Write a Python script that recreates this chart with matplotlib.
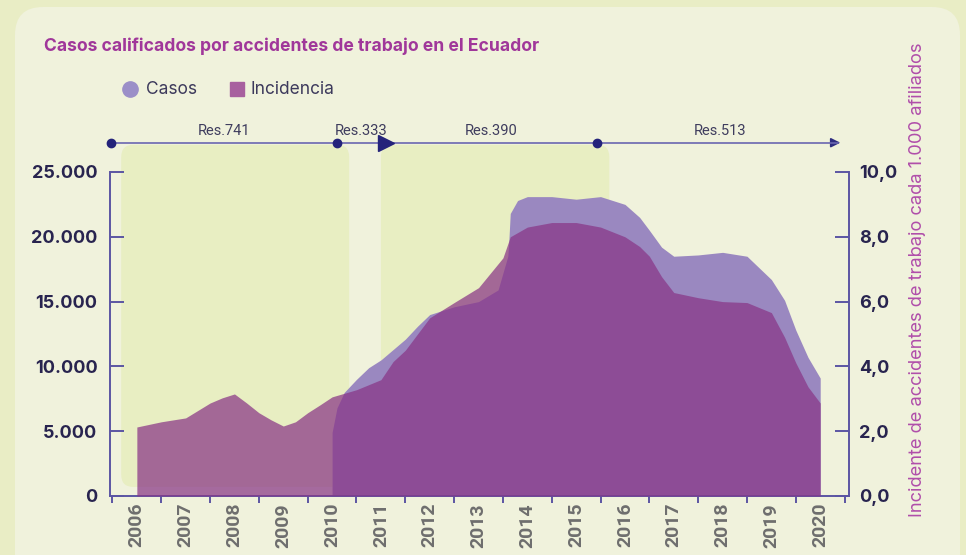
import numpy as np
import matplotlib
matplotlib.use("Agg")
import matplotlib.pyplot as plt
from matplotlib.patches import FancyBboxPatch

# --- data (readings along the smoothed areas) ---
casos_years = [2010.0, 2010.1, 2010.25, 2010.4, 2010.5, 2010.75, 2011.0, 2011.25,
               2011.5, 2011.75, 2012.0, 2012.5, 2013.0, 2013.4, 2013.6, 2013.62,
               2013.65, 2013.8, 2014.0, 2014.5, 2015.0, 2015.5, 2016.0, 2016.3,
               2016.5, 2016.75, 2017.0, 2017.5, 2018.0, 2018.5, 2019.0, 2019.27,
               2019.5, 2019.75, 2020.0]
casos = [4900, 6800, 8000, 8600, 9000, 9900, 10500, 11300,
         12100, 13100, 14000, 14600, 15000, 15900, 18500, 19600,
         21800, 22800, 23100, 23100, 22900, 23100, 22500, 21500,
         20500, 19200, 18500, 18600, 18800, 18500, 16700, 15100,
         12800, 10700, 9100]

inc_years = [2006.0, 2006.5, 2007.0, 2007.5, 2007.75, 2008.0, 2008.25, 2008.5,
             2008.75, 2009.0, 2009.25, 2009.5, 2009.75, 2010.0, 2010.5, 2011.0,
             2011.25, 2011.5, 2012.0, 2012.5, 2013.0, 2013.5, 2013.65, 2014.0,
             2014.5, 2015.0, 2015.5, 2016.0, 2016.3, 2016.5, 2016.75, 2017.0,
             2017.5, 2018.0, 2018.5, 2019.0, 2019.27, 2019.5, 2019.75, 2020.0]
incidencia = [2.13, 2.29, 2.41, 2.87, 3.03, 3.15, 2.87, 2.57,
              2.35, 2.16, 2.29, 2.57, 2.81, 3.06, 3.28, 3.59,
              4.15, 4.50, 5.50, 5.97, 6.43, 7.35, 8.00, 8.30,
              8.44, 8.44, 8.30, 8.00, 7.70, 7.40, 6.77, 6.28,
              6.12, 6.00, 5.97, 5.66, 4.90, 4.11, 3.37, 2.87]

year_labels = list(range(2006, 2021))
left_ticks = [0, 5000, 10000, 15000, 20000, 25000]
left_labels = ["0", "5.000", "10.000", "15.000", "20.000", "25.000"]
right_ticks = [0, 2, 4, 6, 8, 10]
right_labels = ["0,0", "2,0", "4,0", "6,0", "8,0", "10,0"]

# resolutions timeline (start year of each node) and shaded periods
res_names = ["Res.741", "Res.333", "Res.390", "Res.513"]
res_starts = [2005.47, 2010.1, 2011.1, 2015.43]
res_end = 2020.47
shaded = [(2005.68, 2010.35), (2011.0, 2015.68)]

OUTER = "#e9edc5"
PANEL = "#f0f2dc"
HILITE = "#e8eec2"
LAV = "#9a88c0"
PINK = "#893586"
SPINE = "#5b55a3"
NAVY = "#28244f"

fig = plt.figure(figsize=(9.66, 5.55), dpi=100, facecolor=OUTER)

bg = fig.add_axes([0, 0, 1, 1], zorder=-5)
bg.set_xlim(0, 966)
bg.set_ylim(555, 0)
bg.axis("off")
bg.add_patch(FancyBboxPatch((15, 7), 945, 580, boxstyle="round,pad=0,rounding_size=28",
                            fc=PANEL, ec="none"))

ax = fig.add_axes([110 / 966, 1 - 496 / 555, 739 / 966, 324 / 555])
ax.patch.set_alpha(0)
ax.set_xlim(2005.45, 2020.59)
ax.set_ylim(0, 25000)

# highlighted periods, rounded, extending up to the timeline
px_per_year = 739 / (2020.59 - 2005.45)
px_per_unit = 324 / 25000
for x0, x1 in shaded:
    ax.add_patch(FancyBboxPatch((x0, 700), x1 - x0, 26400,
                                boxstyle="round,pad=0,rounding_size=0.25",
                                mutation_aspect=px_per_year / px_per_unit,
                                fc=HILITE, ec="none", zorder=0, clip_on=False))

ax.fill_between(casos_years, casos, 0, color=LAV, lw=0, zorder=2)

ax2 = ax.twinx()
ax2.set_ylim(0, 10)
ax2.fill_between(inc_years, incidencia, 0, color=PINK, alpha=0.72, lw=0, zorder=2)

# spines / ticks
for s in ["top", "right"]:
    ax.spines[s].set_visible(False)
for s in ["top", "left", "bottom"]:
    ax2.spines[s].set_visible(False)
for sp in [ax.spines["left"], ax.spines["bottom"], ax2.spines["right"]]:
    sp.set_color(SPINE)
    sp.set_linewidth(1.4)

ax.set_yticks(left_ticks)
ax.set_yticklabels(left_labels)
ax.tick_params(axis="y", direction="in", length=10, width=1.4, color=SPINE, pad=9,
               labelsize=13, labelcolor=NAVY)
for t in ax.get_yticklabels():
    t.set_fontweight("bold")
    t.set_family("Inter")

ax2.set_yticks(right_ticks)
ax2.set_yticklabels(right_labels)
ax2.tick_params(axis="y", direction="in", length=10, width=1.4, color=SPINE, pad=7,
                labelsize=13, labelcolor=NAVY)
for t in ax2.get_yticklabels():
    t.set_fontweight("bold")
    t.set_family("Inter")

ax.set_xticks(year_labels)
ax.set_xticklabels([str(y) for y in year_labels], rotation=90, fontsize=14,
                   fontweight="bold", color="#6e6e6e", family="Roboto")
ax.set_xticks([y - 0.5 for y in year_labels] + [2020.5], minor=True)
ax.tick_params(axis="x", which="major", length=0, pad=5)
ax.tick_params(axis="x", which="minor", direction="out", length=5, width=1.4, color=SPINE)

# timeline of resolutions
ty = 27260
ax.plot([res_starts[0], res_end - 0.1], [ty, ty], color="#6a66b0", lw=1.2,
        clip_on=False, zorder=5)
ax.annotate("", xy=(res_end, ty), xytext=(res_end - 0.3, ty),
            arrowprops=dict(arrowstyle="-|>", color="#2e2c80", lw=1.2, mutation_scale=14),
            annotation_clip=False)
for i, x in enumerate(res_starts):
    mk, ms = ("o", 6) if i != 2 else (">", 12)
    ax.plot([x], [ty], marker=mk, ms=ms, color="#24237a", clip_on=False, zorder=6)
ends = res_starts[1:] + [res_end]
for name, a, b in zip(res_names, res_starts, ends):
    ax.text((a + b) / 2, ty + 400, name, ha="center", va="bottom", fontsize=10.5,
            color="#3f3d5e", family="Roboto")

# title, legend, right label
fig.text(44 / 966, 1 - 46 / 555, "Casos calificados por accidentes de trabajo en el Ecuador",
         fontsize=12.6, fontweight="bold", color="#a0379a", family="Inter", va="center")
bg.plot([130], [89], marker="o", ms=11, color="#9b8fc8", ls="none")
bg.plot([237], [89], marker="s", ms=10, color="#a8609f", ls="none")
bg.text(146, 89, "Casos", fontsize=12.5, color="#3d3a5c", va="center", family="Inter")
bg.text(251, 89, "Incidencia", fontsize=12.5, color="#3d3a5c", va="center", family="Inter")
fig.text(918 / 966, 1 - 280 / 555, "Incidente de accidentes de trabajo cada 1.000 afiliados",
         rotation=90, fontsize=13.2, color="#b04eaa", ha="center", va="center", family="Inter")

fig.savefig("out.png", dpi=100, facecolor=OUTER)
